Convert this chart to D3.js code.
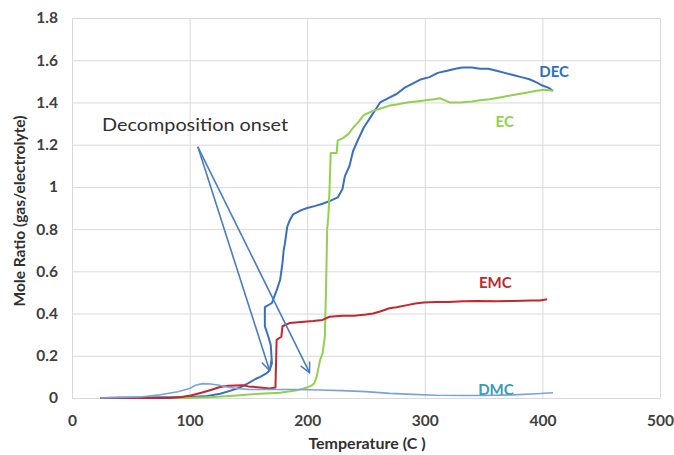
<!DOCTYPE html>
<html>
<head>
<meta charset="utf-8">
<script src="https://cdn.jsdelivr.net/npm/d3@7"></script>
<style>
    body { margin: 0; background: #fff; }
    text { font-family: Lato, "Open Sans", sans-serif; }
</style>
</head>
<body>
<div id="chart"></div>
<script>
// Series data: [temperature, mole ratio]
const decData = [
    [24, 0], [50, 0.002], [80, 0.003], [100, 0.005], [115, 0.01], [126, 0.02], [135, 0.035],
    [143, 0.05], [150, 0.07], [156, 0.09], [160, 0.1], [165, 0.115], [168, 0.13], [170, 0.165],
    [169, 0.25], [167, 0.29], [164, 0.34], [164, 0.43], [170, 0.45], [174, 0.51], [177, 0.56],
    [179, 0.64], [180, 0.7], [181, 0.73], [183, 0.81], [185, 0.84], [188, 0.87], [195, 0.89],
    [200, 0.9], [207, 0.91], [213, 0.92], [220, 0.935], [226, 0.95], [230, 0.99], [232, 1.05],
    [236, 1.1], [239, 1.17], [243, 1.22], [248, 1.28], [255, 1.34], [262, 1.4], [269, 1.42],
    [276, 1.44], [283, 1.47], [290, 1.49], [297, 1.51], [304, 1.52], [311, 1.54], [319, 1.55],
    [326, 1.56], [332, 1.565], [340, 1.565], [347, 1.56], [354, 1.56], [361, 1.55], [368, 1.54],
    [375, 1.53], [382, 1.52], [389, 1.51], [395, 1.495], [400, 1.48], [405, 1.47], [409, 1.455]
];

const ecData = [
    [24, 0], [60, 0], [100, 0], [120, 0.005], [140, 0.012], [160, 0.02], [177, 0.025], [190, 0.035],
    [200, 0.05], [204, 0.06], [206, 0.07], [208, 0.1], [211, 0.18], [213, 0.21], [215, 0.29],
    [216, 0.51], [217, 0.8], [218, 0.86], [219, 0.99], [220, 1.16], [225, 1.16], [226, 1.22],
    [230, 1.23], [235, 1.25], [239, 1.28], [244, 1.31], [248, 1.34], [252, 1.35], [256, 1.36],
    [262, 1.37], [270, 1.385], [276, 1.39], [285, 1.4], [293, 1.405], [301, 1.41], [308, 1.415],
    [313, 1.42], [317, 1.41], [321, 1.4], [330, 1.4], [340, 1.405], [347, 1.41], [355, 1.415],
    [365, 1.425], [375, 1.435], [385, 1.445], [395, 1.455], [402, 1.46], [409, 1.455]
];

const emcData = [
    [24, 0], [50, 0], [83, 0], [93, 0.005], [101, 0.012], [110, 0.025], [118, 0.038], [126, 0.052],
    [133, 0.058], [145, 0.06], [150, 0.055], [160, 0.05], [168, 0.045], [173, 0.05], [174, 0.275],
    [178, 0.29], [179, 0.34], [185, 0.355], [195, 0.36], [205, 0.365], [213, 0.37], [219, 0.385],
    [230, 0.39], [240, 0.39], [250, 0.395], [256, 0.4], [262, 0.41], [270, 0.425], [276, 0.43],
    [285, 0.44], [292, 0.448], [299, 0.452], [310, 0.455], [320, 0.455], [333, 0.458], [345, 0.46],
    [361, 0.458], [375, 0.46], [390, 0.462], [398, 0.462], [404, 0.468]
];

const dmcData = [
    [24, 0], [40, 0.003], [58, 0.005], [75, 0.015], [90, 0.03], [100, 0.045], [105, 0.06],
    [111, 0.068], [118, 0.066], [125, 0.06], [132, 0.052], [140, 0.045], [151, 0.04], [170, 0.04],
    [190, 0.04], [210, 0.038], [230, 0.035], [250, 0.03], [270, 0.022], [290, 0.017], [310, 0.013],
    [333, 0.012], [350, 0.012], [375, 0.015], [395, 0.02], [409, 0.025]
];

// Series names, colours and label anchors (temperature, ratio)
const seriesNames = ['DEC', 'EC', 'EMC', 'DMC'];
const lineColors = ['#3a6fc0', '#92d050', '#c0282e', '#7aa3d8'];
const labelColors = ['#2e6fbf', '#92d050', '#c0282e', '#3a9bb8'];
const labelPos = [[410, 1.544], [368, 1.307], [360, 0.545], [360.5, 0.038]];

// Tick values
const xTicks = [0, 100, 200, 300, 400, 500];
const yTicks = [0, 0.2, 0.4, 0.6, 0.8, 1, 1.2, 1.4, 1.6, 1.8];

// Annotation: text and arrows from one start point to two tips
const noteText = 'Decomposition onset';
const notePos = [104.6, 1.293];
const arrowStart = [107, 1.19];
const arrowTips = [[168, 0.13], [202, 0.12]];

// Dimensions
const svgWidth = 674;
const svgHeight = 455;
const margin = { top: 18, right: 14, bottom: 57, left: 72 };
const chartWidth = svgWidth - margin.left - margin.right;
const chartHeight = svgHeight - margin.top - margin.bottom;

let svg = d3.select('#chart')
    .append('svg')
    .attr('width', svgWidth)
    .attr('height', svgHeight);

let chart = svg.append('g')
    .attr('transform', `translate(${margin.left}, ${margin.top})`);

// Scales
let xScale = d3.scaleLinear().domain([0, 500]).range([0, chartWidth]);
let yScale = d3.scaleLinear().domain([0, 1.8]).range([chartHeight, 0]);

// Gridlines via axes
let xGrid = chart.append('g')
    .attr('transform', `translate(0, ${chartHeight})`)
    .call(d3.axisBottom(xScale).tickValues(xTicks).tickSize(-chartHeight).tickFormat(''));
let yGrid = chart.append('g')
    .call(d3.axisLeft(yScale).tickValues(yTicks).tickSize(-chartWidth).tickFormat(''));
[xGrid, yGrid].forEach(g => {
    g.select('.domain').remove();
    g.selectAll('line').attr('stroke', '#d9d9d9').attr('stroke-width', 1);
});

// Tick labels
let xAxis = chart.append('g')
    .attr('transform', `translate(0, ${chartHeight})`)
    .call(d3.axisBottom(xScale).tickValues(xTicks).tickSize(0).tickPadding(17).tickFormat(d3.format('d')));
let yAxis = chart.append('g')
    .call(d3.axisLeft(yScale).tickValues(yTicks).tickSize(0).tickPadding(14).tickFormat(d => d === 1 || d === 0 ? d : d3.format('.1f')(d)));
[xAxis, yAxis].forEach(g => {
    g.select('.domain').remove();
    g.selectAll('text')
        .style('font-family', 'Lato, sans-serif')
        .style('font-size', '15.5px')
        .style('font-weight', 'bold')
        .style('fill', '#404040');
});

// Lines
let line = d3.line()
    .x(d => xScale(d[0]))
    .y(d => yScale(d[1]));

const allData = [decData, ecData, emcData, dmcData];
allData.forEach((data, i) => {
    chart.append('path')
        .datum(data)
        .attr('fill', 'none')
        .attr('stroke', lineColors[i])
        .attr('stroke-width', i === 3 ? 1.6 : 2)
        .attr('stroke-linejoin', 'round')
        .attr('d', line);
});

// Series labels
chart.selectAll('.series-label')
    .data(seriesNames)
    .enter()
    .append('text')
    .attr('class', 'series-label')
    .attr('x', (d, i) => xScale(labelPos[i][0]))
    .attr('y', (d, i) => yScale(labelPos[i][1]))
    .attr('dy', '0.35em')
    .attr('text-anchor', 'middle')
    .style('font-size', '15px')
    .style('font-weight', 'bold')
    .style('fill', (d, i) => labelColors[i])
    .text(d => d);

// Annotation arrows
svg.append('defs').append('marker')
    .attr('id', 'arrow')
    .attr('viewBox', '0 0 12 12')
    .attr('refX', 11)
    .attr('refY', 6)
    .attr('markerWidth', 12)
    .attr('markerHeight', 12)
    .attr('markerUnits', 'userSpaceOnUse')
    .attr('orient', 'auto')
    .append('path')
    .attr('d', 'M1,1 L11,6 L1,11')
    .attr('fill', 'none')
    .attr('stroke', '#4a7ebb')
    .attr('stroke-width', 1.5);

arrowTips.forEach(tip => {
    chart.append('line')
        .attr('x1', xScale(arrowStart[0]))
        .attr('y1', yScale(arrowStart[1]))
        .attr('x2', xScale(tip[0]))
        .attr('y2', yScale(tip[1]))
        .attr('stroke', '#4a7ebb')
        .attr('stroke-width', 1.6)
        .attr('marker-end', 'url(#arrow)');
});

chart.append('text')
    .attr('x', xScale(notePos[0]))
    .attr('y', yScale(notePos[1]))
    .attr('dy', '0.35em')
    .attr('text-anchor', 'middle')
    .attr('textLength', 186)
    .attr('lengthAdjust', 'spacingAndGlyphs')
    .style('font-size', '17px')
    .style('fill', '#303030')
    .text(noteText);

// Axis titles
svg.append('text')
    .attr('x', 367)
    .attr('y', 443)
    .attr('dy', '0.35em')
    .attr('text-anchor', 'middle')
    .style('font-size', '16px')
    .style('font-weight', 'bold')
    .style('fill', '#303030')
    .text('Temperature (C )');

svg.append('text')
    .attr('transform', 'translate(20, 211) rotate(-90)')
    .attr('dy', '0.35em')
    .attr('text-anchor', 'middle')
    .style('font-size', '15.5px')
    .style('font-weight', 'bold')
    .style('fill', '#303030')
    .text('Mole Ratio (gas/electrolyte)');
</script>
</body>
</html>
